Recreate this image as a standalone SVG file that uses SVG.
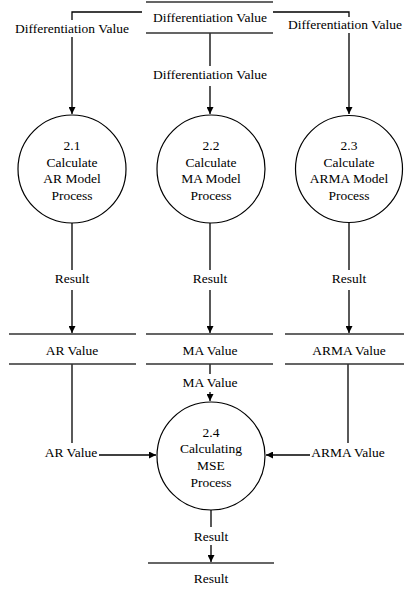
<svg xmlns="http://www.w3.org/2000/svg" width="404" height="591" viewBox="0 0 404 591">
<style>
text{font-family:"Liberation Serif","Times New Roman",serif;font-size:13.5px;fill:#000;text-anchor:middle}
.ln{stroke:#000;stroke-width:1.3;fill:none}
.st{stroke:#333;stroke-width:1.6;fill:none}
.pr{stroke:#000;stroke-width:1.2;fill:#fff}
</style>
<defs>
<marker id="ar" viewBox="0 0 10 10" refX="10" refY="5" markerWidth="7" markerHeight="7" markerUnits="userSpaceOnUse" orient="auto">
<path d="M0,0 L10,5 L0,10 z" fill="#000"/>
</marker>
</defs>
<rect width="404" height="591" fill="#fff"/>
<g id="connectors">
<path class="ln" d="M142,12 H72 V20 M72,37 V114" marker-end="url(#ar)"/>
<path class="ln" d="M273,12 H349 V17 M349,33 V114" marker-end="url(#ar)"/>
<path class="ln" d="M210,33 V66 M210,86 V114" marker-end="url(#ar)"/>
<path class="ln" d="M72,223 V270 M72,290 V333" marker-end="url(#ar)"/>
<path class="ln" d="M210,223 V270 M210,290 V333" marker-end="url(#ar)"/>
<path class="ln" d="M349,223 V270 M349,290 V333" marker-end="url(#ar)"/>
<path class="ln" d="M210,364 V374 M210,392 V401" marker-end="url(#ar)"/>
<path class="ln" d="M72,364 V443"/>
<path class="ln" d="M99,455 H156" marker-end="url(#ar)"/>
<path class="ln" d="M348,364 V443"/>
<path class="ln" d="M310,455 H266" marker-end="url(#ar)"/>
<path class="ln" d="M211,510 V527 M211,545 V562" marker-end="url(#ar)"/>
<text x="72" y="33">Differentiation Value</text>
<text x="345" y="29">Differentiation Value</text>
<text x="210" y="79">Differentiation Value</text>
<text x="72" y="283">Result</text>
<text x="210" y="283">Result</text>
<text x="349" y="283">Result</text>
<text x="210" y="387">MA Value</text>
<text x="71" y="457">AR Value</text>
<text x="348" y="457">ARMA Value</text>
<text x="211" y="541">Result</text>
</g>
<g id="store-diff">
<path class="st" d="M146,2 H273 M146,33 H273"/>
<text x="210" y="22">Differentiation Value</text>
</g>
<g id="p21">
<circle class="pr" cx="72" cy="169" r="54"/>
<text x="72" y="150">2.1</text>
<text x="72" y="166.5">Calculate</text>
<text x="72" y="183">AR Model</text>
<text x="72" y="199.5">Process</text>
</g>
<g id="p22">
<circle class="pr" cx="211" cy="169" r="54"/>
<text x="211" y="150">2.2</text>
<text x="211" y="166.5">Calculate</text>
<text x="211" y="183">MA Model</text>
<text x="211" y="199.5">Process</text>
</g>
<g id="p23">
<circle class="pr" cx="349" cy="169" r="53.5"/>
<text x="349" y="150">2.3</text>
<text x="349" y="166.5">Calculate</text>
<text x="349" y="183">ARMA Model</text>
<text x="349" y="199.5">Process</text>
</g>
<g id="store-ar">
<path class="st" d="M9,334 H136 M9,364 H136"/>
<text x="72" y="355">AR Value</text>
</g>
<g id="store-ma">
<path class="st" d="M146,334 H273 M146,364 H273"/>
<text x="210" y="355">MA Value</text>
</g>
<g id="store-arma">
<path class="st" d="M285,334 H404 M285,364 H404"/>
<text x="349" y="355">ARMA Value</text>
</g>
<g id="p24">
<circle class="pr" cx="211" cy="456" r="54"/>
<text x="211" y="437">2.4</text>
<text x="211" y="453">Calculating</text>
<text x="211" y="470">MSE</text>
<text x="211" y="487">Process</text>
</g>
<g id="store-result">
<path class="st" d="M148,563 H274"/>
<text x="211" y="583">Result</text>
</g>
</svg>
